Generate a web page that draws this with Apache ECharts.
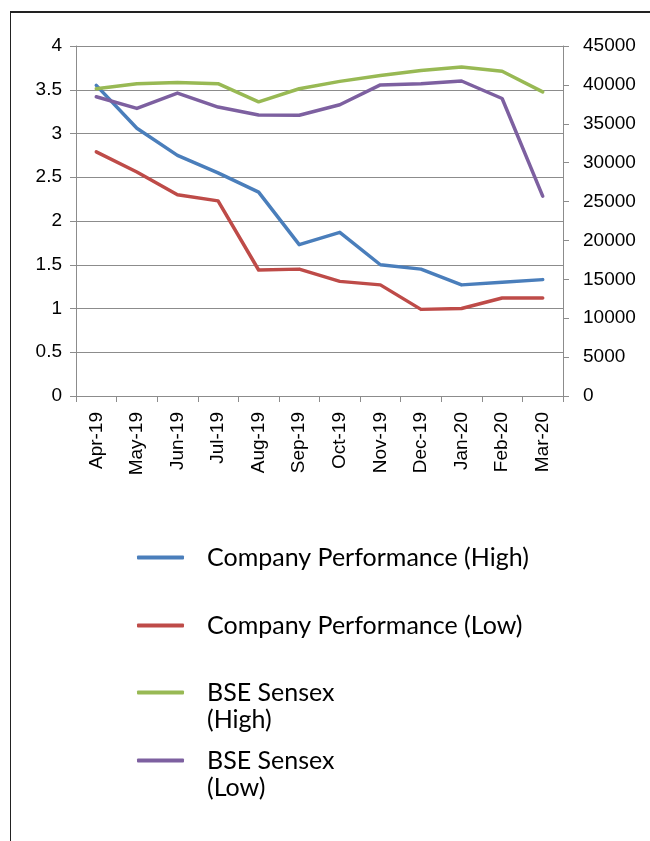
<!DOCTYPE html>
<html>
<head>
    <meta charset="utf-8">
    <title>Company Performance vs BSE Sensex</title>
    <style>
        html, body { margin: 0; padding: 0; background: #fff; }
        #chartBox { width: 650px; height: 841px; }
        /* frame around the chart area */
        .frame {
            position: absolute;
            left: 10px; top: 11px;
            width: 640px; height: 830px;
            border-top: 2px solid #222;
            border-left: 1px solid #222;
            pointer-events: none;
        }
    </style>
</head>
<body>
    <div id="chartBox"></div>
    <div class="frame"></div>

    <script src="https://cdn.jsdelivr.net/npm/echarts@6/dist/echarts.min.js"></script>
    <script>
        // months on the x axis
        var months = ['Apr-19', 'May-19', 'Jun-19', 'Jul-19', 'Aug-19', 'Sep-19',
                      'Oct-19', 'Nov-19', 'Dec-19', 'Jan-20', 'Feb-20', 'Mar-20'];
        // company share price (left axis)
        var compHigh = [3.55, 3.06, 2.75, 2.55, 2.33, 1.73, 1.87, 1.50, 1.45, 1.27, 1.30, 1.33];
        var compLow  = [2.79, 2.56, 2.30, 2.23, 1.44, 1.45, 1.31, 1.27, 0.99, 1.00, 1.12, 1.12];
        // sensex (right axis)
        var bseHigh = [39500, 40150, 40320, 40150, 37820, 39500, 40450, 41200, 41850, 42300, 41750, 39100];
        var bseLow  = [38470, 36980, 38950, 37150, 36130, 36100, 37450, 40000, 40150, 40500, 38250, 25700];
        var leftTicks = [0, 4, 0.5];      // min, max, step
        var rightTicks = [0, 45000, 5000];

        var names = ['Company Performance (High)', 'Company Performance (Low)',
                     'BSE Sensex\n(High)', 'BSE Sensex\n(Low)'];
        var colors = ['#4a7ebb', '#be4b48', '#98b954', '#7d60a0'];

        var chart = echarts.init(document.getElementById('chartBox'));

        var axisFont = { fontFamily: 'Liberation Sans', fontSize: 19, color: '#000' };
        var gray = '#8c8c8c';

        function makeLine(i, data, yIdx) {
            return {
                name: names[i],
                type: 'line',
                yAxisIndex: yIdx,
                data: data,
                showSymbol: false,
                symbol: 'none',
                lineStyle: { color: colors[i], width: 3.5, cap: 'round', join: 'round' },
                itemStyle: { color: colors[i] }
            };
        }

        // one legend per entry so each can sit where the original put it
        // two-line names get a blank first line so the icon lines up with the first text line
        var legendTops = [544, 612, 652, 720];
        var legends = names.map(function (n, i) {
            var twoLines = n.indexOf('\n') >= 0;
            return {
                data: [n],
                left: 137,
                top: legendTops[i],
                padding: 0,
                icon: 'roundRect',
                itemWidth: 47,
                itemHeight: 4,
                selectedMode: false,
                formatter: function (name) {
                    return twoLines ? '\n' + name : name;
                },
                textStyle: {
                    fontFamily: 'Lato',
                    fontSize: 25,
                    lineHeight: 27,
                    color: '#000',
                    padding: [0, 0, 0, 18]
                }
            };
        });

        var option = {
            animation: false,
            backgroundColor: '#fff',
            grid: { left: 76, right: 87, top: 46, bottom: 445 },
            legend: legends,
            xAxis: {
                type: 'category',
                data: months,
                boundaryGap: true,
                axisLine: { lineStyle: { color: gray, width: 1 } },
                axisTick: { show: true, length: 6, lineStyle: { color: gray } },
                axisLabel: Object.assign({ rotate: 90, margin: 16, interval: 0 }, axisFont)
            },
            yAxis: [{
                type: 'value',
                position: 'left',
                min: leftTicks[0], max: leftTicks[1], interval: leftTicks[2],
                axisLine: { show: true, lineStyle: { color: gray } },
                axisTick: { show: true, length: 6, lineStyle: { color: gray } },
                splitLine: { show: true, lineStyle: { color: gray, width: 1 } },
                axisLabel: Object.assign({ margin: 14 }, axisFont)
            }, {
                type: 'value',
                position: 'right',
                min: rightTicks[0], max: rightTicks[1], interval: rightTicks[2],
                axisLine: { show: true, lineStyle: { color: gray } },
                axisTick: { show: true, length: 6, lineStyle: { color: gray } },
                splitLine: { show: false },
                axisLabel: Object.assign({
                    margin: 20,
                    formatter: function (v) { return String(v); }
                }, axisFont)
            }],
            series: [
                makeLine(0, compHigh, 0),
                makeLine(1, compLow, 0),
                makeLine(2, bseHigh, 1),
                makeLine(3, bseLow, 1)
            ]
        };

        chart.setOption(option);
    </script>
</body>
</html>
